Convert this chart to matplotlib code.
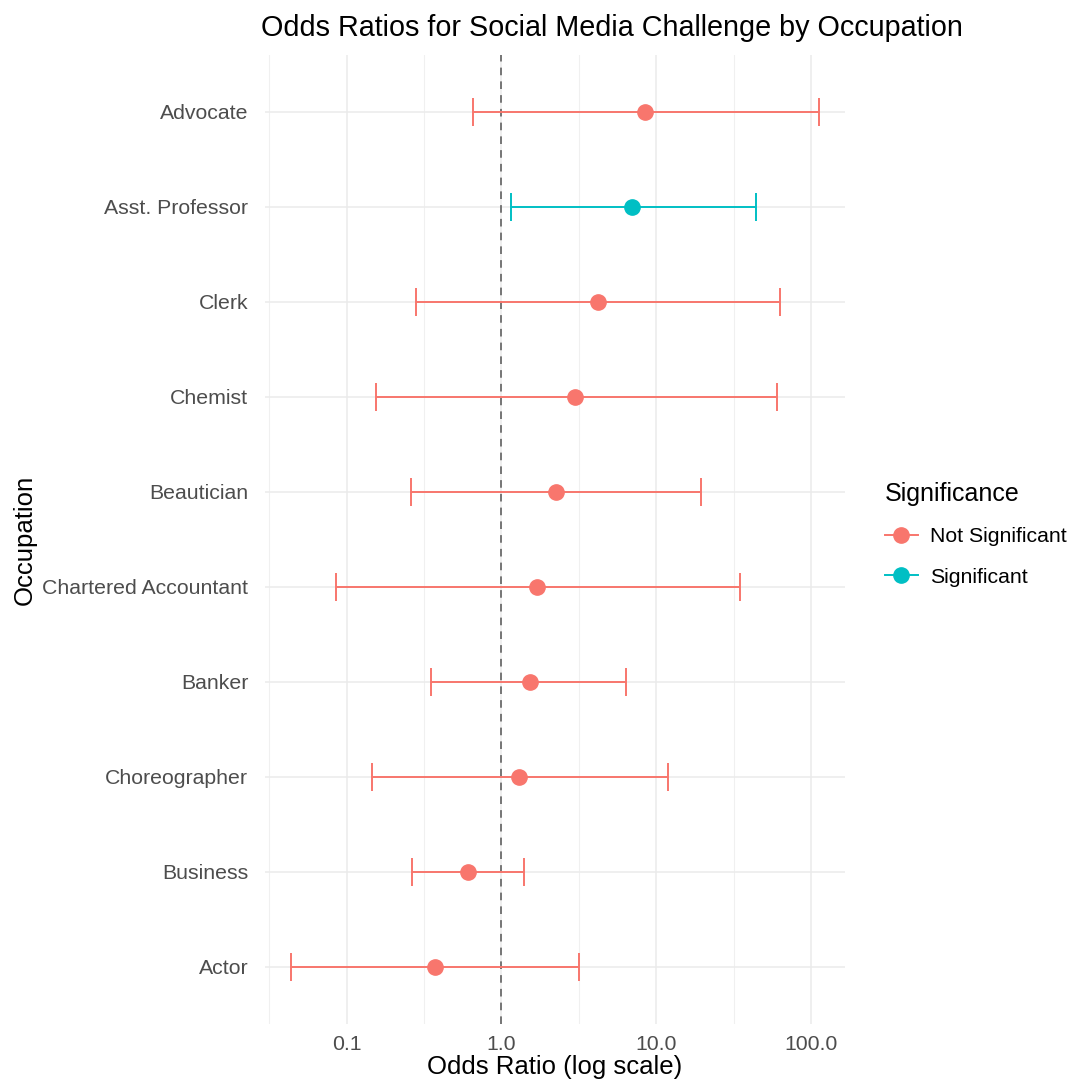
import matplotlib.pyplot as plt
import numpy as np
from matplotlib.lines import Line2D

plt.rcParams["font.family"] = ["Liberation Sans", "DejaVu Sans"]

occupations = [
    "Advocate", "Asst. Professor", "Clerk", "Chemist", "Beautician",
    "Chartered Accountant", "Banker", "Choreographer", "Business", "Actor",
]
odds_ratio = [8.5, 7.0, 4.2, 3.0, 2.24, 1.69, 1.52, 1.30, 0.61, 0.37]
ci_lower = [0.66, 1.15, 0.28, 0.154, 0.259, 0.085, 0.353, 0.147, 0.266, 0.044]
ci_upper = [112.0, 44.0, 63.0, 60.0, 19.5, 34.6, 6.4, 11.9, 1.41, 3.15]
significant = [False, True, False, False, False, False, False, False, False, False]

x_ticks = [0.1, 1.0, 10.0, 100.0]
x_tick_labels = ["0.1", "1.0", "10.0", "100.0"]

colors = {False: "#F8766D", True: "#00BFC4"}

fig = plt.figure(figsize=(10.76, 10.87), dpi=100)
ax = fig.add_axes([0.2463, 0.058, 0.5390, 0.8914])

n = len(occupations)
ypos = np.arange(n)[::-1]

for y, est, lo, hi, sig in zip(ypos, odds_ratio, ci_lower, ci_upper, significant):
    c = colors[sig]
    ax.errorbar(est, y, xerr=[[est - lo], [hi - est]], fmt="none",
                ecolor=c, elinewidth=1.4, capsize=10, capthick=1.4, zorder=3)
    ax.plot(est, y, "o", color=c, markersize=11, zorder=4)

ax.axvline(1.0, color="#555555", linestyle=(0, (5, 4)), linewidth=1.1, zorder=2)

ax.set_xscale("log")
lo_log = np.log10(min(ci_lower))
hi_log = np.log10(max(ci_upper))
pad = 0.05 * (hi_log - lo_log)
ax.set_xlim(10 ** (lo_log - pad), 10 ** (hi_log + pad))
ax.set_ylim(-0.6, n - 0.4)

ax.set_xticks(x_ticks)
ax.set_xticklabels(x_tick_labels)
ax.set_xticks([10 ** -1.5, 10 ** -0.5, 10 ** 0.5, 10 ** 1.5], minor=True)
ax.set_xticklabels([], minor=True)
ax.set_yticks(ypos)
ax.set_yticklabels(occupations)

ax.grid(True, which="major", color="#EBEBEB", linewidth=1.1, zorder=0)
ax.grid(True, which="minor", axis="x", color="#F0F0F0", linewidth=0.8, zorder=0)
ax.set_axisbelow(True)
for s in ax.spines.values():
    s.set_visible(False)
ax.tick_params(which="both", length=0)
ax.tick_params(axis="y", pad=12, labelsize=15.3, labelcolor="#4D4D4D")
ax.tick_params(axis="x", pad=8, labelsize=15.3, labelcolor="#4D4D4D")

ax.set_xlabel("Odds Ratio (log scale)", fontsize=18.5, labelpad=1)
ax.set_ylabel("Occupation", fontsize=18.5, labelpad=4)
fig.text(0.569, 0.974, "Odds Ratios for Social Media Challenge by Occupation",
         fontsize=20.7, ha="center", va="center")

handles = [
    Line2D([], [], color=colors[False], marker="o", markersize=11, linewidth=1.4),
    Line2D([], [], color=colors[True], marker="o", markersize=11, linewidth=1.4),
]
fig.legend(handles, ["Not Significant", "Significant"], title="Significance",
           loc="upper left", bbox_to_anchor=(0.8045, 0.574), frameon=False,
           fontsize=15.3, title_fontsize=18, handlelength=1.55,
           handletextpad=0.6, labelspacing=1.0, alignment="left")

fig.savefig("out.png", dpi=100, facecolor="white")
